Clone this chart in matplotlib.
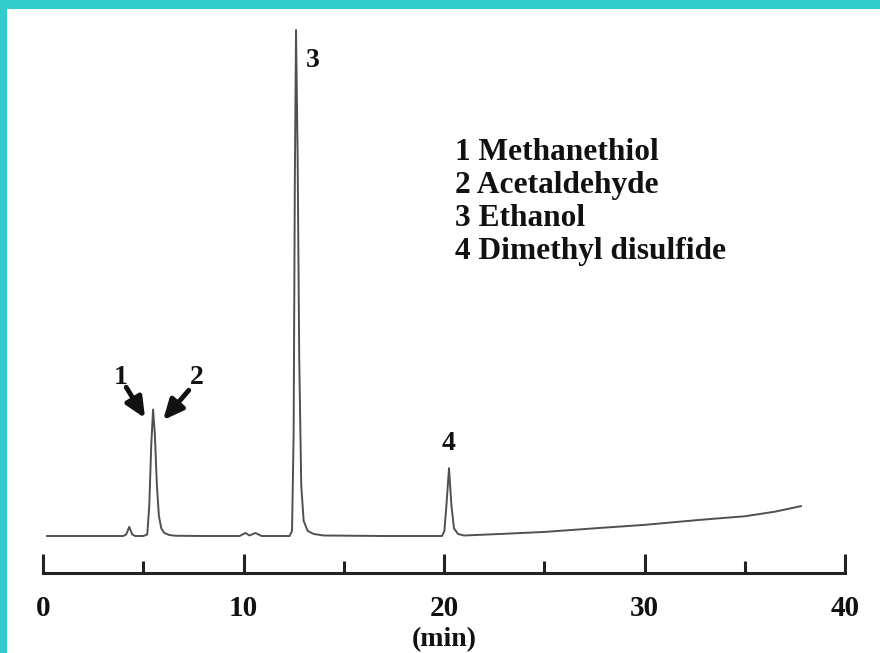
import matplotlib
matplotlib.use("Agg")
import matplotlib.pyplot as plt
from matplotlib.patches import Rectangle

# Chromatogram trace (time in min, signal in arbitrary units)
time_min = [0.2, 2.0, 4.0, 4.15, 4.3, 4.45, 4.6, 5.0, 5.2, 5.3, 5.4, 5.49, 5.58, 5.68,
            5.78, 5.9, 6.05, 6.3, 6.6, 8.0, 9.8, 10.1, 10.3, 10.6, 10.9, 12.3, 12.42,
            12.5, 12.56, 12.62, 12.7, 12.78, 12.88, 13.0, 13.2, 13.5, 14.0, 17.0, 19.9,
            20.02, 20.12, 20.25, 20.37, 20.5, 20.7, 21.0, 22.8, 25.0, 27.8, 30.0, 32.8,
            35.0, 36.5, 37.8]
signal = [0.0, 0.0, 0.0, 0.3, 1.8, 0.3, 0.0, 0.0, 0.3, 6.0, 18.0, 25.0, 20.0, 10.0,
          4.0, 1.5, 0.6, 0.2, 0.05, 0.0, 0.0, 0.6, 0.1, 0.6, 0.0, 0.0, 1.0,
          20.0, 70.0, 100.0, 75.0, 35.0, 10.0, 3.0, 1.0, 0.4, 0.1, 0.0, 0.0,
          1.0, 6.0, 13.4, 6.0, 1.5, 0.4, 0.1, 0.4, 0.8, 1.6, 2.2, 3.2,
          3.9, 4.8, 5.9]

x_ticks_major = [0, 10, 20, 30, 40]
x_ticks_minor = [5, 15, 25, 35]
x_label = "(min)"

compounds = ["1 Methanethiol", "2 Acetaldehyde", "3 Ethanol", "4 Dimethyl disulfide"]

W, H = 880, 653
fig = plt.figure(figsize=(W / 100, H / 100), dpi=100)
fig.patch.set_facecolor("white")

# cyan frame (top and left)
fig.patches.append(Rectangle((0, 1 - 9 / H), 1, 9 / H, transform=fig.transFigure,
                             facecolor="#33CCCC", edgecolor="none", zorder=0))
fig.patches.append(Rectangle((0, 0), 7 / W, 1, transform=fig.transFigure,
                             facecolor="#33CCCC", edgecolor="none", zorder=0))

x0_px, x40_px = 43, 845
spine_px, top_px = 573, 20
ax = fig.add_axes([x0_px / W, (H - spine_px) / H, (x40_px - x0_px) / W, (spine_px - top_px) / H])
ax.set_xlim(0, 40)
px_per_unit = (536 - 30) / 100.0
ax.set_ylim(-(spine_px - 536) / px_per_unit, (536 - top_px) / px_per_unit)

ax.plot(time_min, signal, color="#505050", lw=1.4)

serif = ["Liberation Serif", "DejaVu Serif"]
for s in ["top", "left", "right"]:
    ax.spines[s].set_visible(False)
ax.spines["bottom"].set_linewidth(2.2)
ax.spines["bottom"].set_color("#222222")
ax.set_yticks([])
ax.set_xticks(x_ticks_major)
ax.set_xticks(x_ticks_minor, minor=True)
ax.tick_params(axis="x", which="major", direction="in", length=14, width=2.2,
               color="#222222", pad=16)
ax.tick_params(axis="x", which="minor", direction="in", length=9, width=2.2,
               color="#222222")
ax.set_xticklabels([str(v) for v in x_ticks_major], fontfamily=serif,
                   fontweight="bold", fontsize=21, color="#111111")
ax.text(20, -0.12, x_label, transform=ax.get_xaxis_transform(), ha="center",
        va="center", fontfamily=serif, fontweight="bold", fontsize=20, color="#111111")

# peak labels
lab = dict(fontfamily=serif, fontweight="bold", fontsize=20, color="#111111",
           ha="center", va="center")
ax.text(13.45, 94.0, "3", **lab)
ax.text(20.25, 18.3, "4", **lab)
ax.text(3.85, 31.3, "1", **lab)
ax.text(7.68, 31.3, "2", **lab)

arrow = dict(arrowstyle="-|>,head_length=1.2,head_width=0.55", color="#111111", lw=3.5,
             shrinkA=0, shrinkB=0)
ax.annotate("", xy=(5.09, 23.3), xytext=(4.15, 29.4), arrowprops=arrow)
ax.annotate("", xy=(5.99, 22.9), xytext=(7.27, 28.8), arrowprops=arrow)

# compound list
for i, c in enumerate(compounds):
    fig.text(455 / W, 1 - (152 + i * 33.3) / H, c, ha="left", va="center",
             fontfamily=serif, fontweight="bold", fontsize=22.6, color="#111111")

fig.savefig("out.png", dpi=100)
